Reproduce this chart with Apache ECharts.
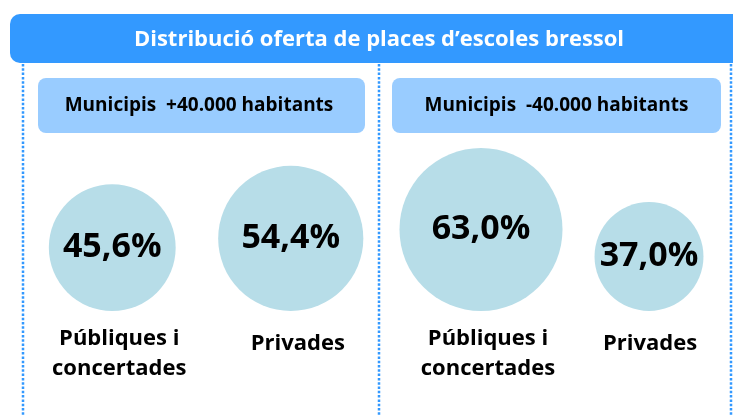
<!DOCTYPE html>
<html>
<head>
<meta charset="utf-8">
<title>Distribució oferta de places d'escoles bressol</title>
<script src="https://cdn.jsdelivr.net/npm/echarts@6/dist/echarts.min.js"></script>
<style>
  html, body { margin: 0; padding: 0; background: #fff; }
  #chart { width: 733px; height: 416px; }
</style>
</head>
<body>
<div id="chart"></div>
<script type="text/javascript">
  // dades
  var titol = 'Distribució oferta de places d\u2019escoles bressol';
  var grups = ['Municipis  +40.000 habitants', 'Municipis  -40.000 habitants'];
  var categories = ['Públiques i\nconcertades', 'Privades'];
  var mes40000 = [45.6, 54.4];    // % places, municipis +40.000 hab.
  var menys40000 = [63.0, 37.0];  // % places, municipis -40.000 hab.

  var FONT = '"Open Sans", "Noto Sans", sans-serif';
  var BLAU = '#3399FF';
  var BLAU_CLAR = '#99CCFF';
  var CERCLE = '#B7DDE8';

  // diametre del cercle segons el percentatge
  function diametre(v) { return 32 + 2.08 * v; }

  function pct(v) { return v.toFixed(1).replace('.', ',') + '%'; }

  function punts(valors) {
    return valors.map(function (v, i) {
      var d = diametre(v);
      return { value: [i, 0, v], symbolSize: d, symbolOffset: [0, -d / 2] };
    });
  }

  function etiqueta(nom, dreta) {
    if (nom.indexOf('\n') >= 0) {
      return nom.split('\n').map(function (l) { return '{pub|' + l + '}'; }).join('\n');
    }
    return '{' + (dreta ? 'privR' : 'priv') + '|' + nom + '}';
  }

  function eixX(idx, dreta) {
    return {
      type: 'category', gridIndex: idx, data: categories,
      axisLine: { show: false }, axisTick: { show: false }, splitLine: { show: false },
      axisLabel: {
        margin: 13, interval: 0,
        formatter: function (v) { return etiqueta(v, dreta); },
        rich: {
          pub: { fontFamily: FONT, fontSize: 22, fontWeight: 'bold', color: '#000', lineHeight: 30, padding: [0, 0, 0, 14] },
          priv: { fontFamily: FONT, fontSize: 22, fontWeight: 'bold', color: '#000', lineHeight: 40, padding: [0, 0, 0, 14] },
          privR: { fontFamily: FONT, fontSize: 22, fontWeight: 'bold', color: '#000', lineHeight: 40, padding: [0, 0, 0, 2] }
        }
      }
    };
  }

  function eixY(idx) {
    return { type: 'value', gridIndex: idx, min: 0, max: 1, show: false };
  }

  function serie(idx, valors) {
    return {
      type: 'scatter', xAxisIndex: idx, yAxisIndex: idx, clip: false,
      symbol: 'circle',
      itemStyle: { color: CERCLE, opacity: 1 },
      emphasis: { disabled: true },
      label: {
        show: true, position: 'inside',
        fontFamily: FONT, fontSize: 34, fontWeight: 'bold', color: '#000',
        formatter: function (p) { return pct(p.value[2]); }
      },
      data: punts(valors)
    };
  }

  function puntejada(x) {
    return {
      type: 'line', silent: true,
      shape: { x1: x, y1: 64, x2: x, y2: 416 },
      style: { stroke: BLAU, lineWidth: 2.5, lineDash: [2.5, 1.8] }
    };
  }

  var option = {
    backgroundColor: '#fff',
    animation: false,
    grid: [
      { left: 23, width: 357, top: 140, bottom: 105 },
      { left: 397, width: 336, top: 140, bottom: 105 }
    ],
    xAxis: [eixX(0, false), eixX(1, true)],
    yAxis: [eixY(0), eixY(1)],
    graphic: [
      { type: 'rect', shape: { x: 10, y: 14, width: 740, height: 49, r: 10 }, style: { fill: BLAU }, silent: true },
      { type: 'text', x: 379, y: 39.5, silent: true,
        style: { text: titol, fill: '#fff', font: 'bold 22px ' + FONT, textAlign: 'center', textVerticalAlign: 'middle' } },
      puntejada(23), puntejada(379), puntejada(731),
      { type: 'rect', shape: { x: 38, y: 78, width: 327, height: 55, r: 8 }, style: { fill: BLAU_CLAR }, silent: true },
      { type: 'rect', shape: { x: 392, y: 78, width: 329, height: 55, r: 8 }, style: { fill: BLAU_CLAR }, silent: true },
      { type: 'text', x: 199, y: 106, silent: true,
        style: { text: grups[0], fill: '#000', font: 'bold 19px ' + FONT, textAlign: 'center', textVerticalAlign: 'middle' } },
      { type: 'text', x: 556.5, y: 106, silent: true,
        style: { text: grups[1], fill: '#000', font: 'bold 19px ' + FONT, textAlign: 'center', textVerticalAlign: 'middle' } }
    ],
    series: [serie(0, mes40000), serie(1, menys40000)]
  };

  var myChart = echarts.init(document.getElementById('chart'));
  myChart.setOption(option);
</script>
</body>
</html>
